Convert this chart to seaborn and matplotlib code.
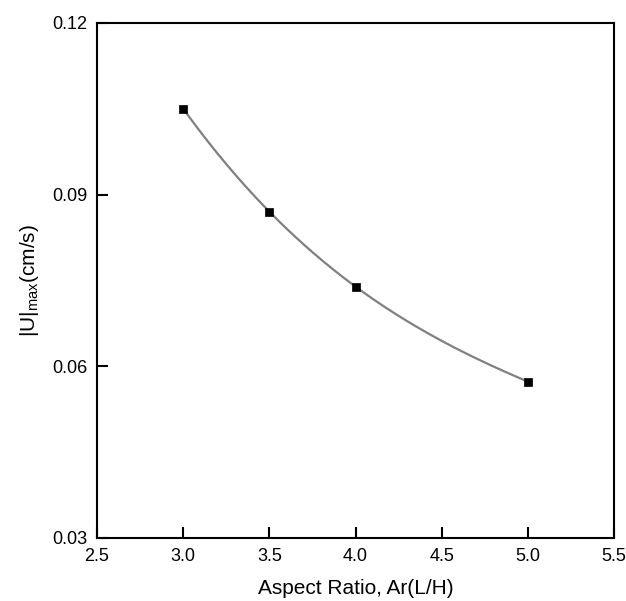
import numpy as np
import matplotlib
matplotlib.use("Agg")
import matplotlib.pyplot as plt
import seaborn as sns
import pandas as pd

aspect_ratio = [3.0, 3.5, 4.0, 5.0]
u_max = [0.105, 0.087, 0.0739, 0.0573]
x_ticks = [2.5, 3.0, 3.5, 4.0, 4.5, 5.0, 5.5]
y_ticks = [0.03, 0.06, 0.09, 0.12]

plt.rcParams['font.family'] = ['Liberation Sans', 'DejaVu Sans']
plt.rcParams['mathtext.fontset'] = 'custom'
plt.rcParams['mathtext.rm'] = 'Liberation Sans'
plt.rcParams['mathtext.it'] = 'Liberation Sans'
plt.rcParams['xtick.direction'] = 'in'
plt.rcParams['ytick.direction'] = 'in'
plt.rcParams['xtick.major.size'] = 8
plt.rcParams['ytick.major.size'] = 8
plt.rcParams['xtick.major.width'] = 1.5
plt.rcParams['ytick.major.width'] = 1.5
plt.rcParams['xtick.labelsize'] = 13
plt.rcParams['ytick.labelsize'] = 13
plt.rcParams['xtick.major.pad'] = 7
plt.rcParams['ytick.major.pad'] = 7
plt.rcParams['xtick.color'] = 'black'
plt.rcParams['ytick.color'] = 'black'

df = pd.DataFrame({"ar": aspect_ratio, "u": u_max})

# smooth curve through the measured points
coef = np.polyfit(df["ar"], df["u"], 3)
xs = np.linspace(min(aspect_ratio), max(aspect_ratio), 200)
curve = pd.DataFrame({"ar": xs, "u": np.polyval(coef, xs)})

fig = plt.figure(figsize=(6.26, 6.01), dpi=100)
ax = fig.add_axes([0.155, 0.105, 0.826, 0.857])

sns.lineplot(data=curve, x="ar", y="u", color="#808080", lw=1.6, ax=ax)
sns.scatterplot(data=df, x="ar", y="u", marker="s", s=40, color="black",
                edgecolor="black", zorder=3, ax=ax)

ax.set_xlim(2.5, 5.5)
ax.set_ylim(0.03, 0.12)
ax.set_xticks(x_ticks)
ax.set_xticklabels([f"{v:.1f}" for v in x_ticks])
ax.set_yticks(y_ticks)
ax.set_yticklabels([f"{v:.2f}" for v in y_ticks])

for s in ax.spines.values():
    s.set_linewidth(1.5)
    s.set_color("black")

ax.tick_params(axis="both", which="major", direction="in", length=8, width=1.5,
               color="black", labelcolor="black", labelsize=13, pad=7)

ax.set_xlabel("Aspect Ratio, Ar(L/H)", fontsize=15, labelpad=10, color="black")
ax.set_ylabel(r"|U|$_{\mathregular{max}}$(cm/s)", fontsize=15, labelpad=8, color="black")

fig.canvas.draw()
fig.savefig("out.png", dpi=100)
